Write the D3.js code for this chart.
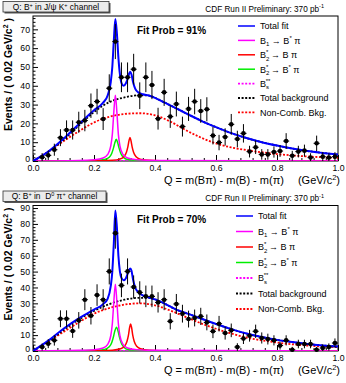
<!DOCTYPE html>
<html>
<head>
<meta charset="utf-8">
<script src="https://cdn.jsdelivr.net/npm/d3@7"></script>
<style>
  body { margin: 0; background: #fff; }
  svg { display: block; font-family: "Liberation Sans", Arial, sans-serif; }
</style>
</head>
<body>
<div id="chart"></div>
<script>
// bin centres (0.02 GeV/c^2 bins)
const binCentres = [0.03,0.05,0.07,0.09,0.11,0.13,0.15,0.17,0.19,0.21,0.23,0.25,0.27,0.29,0.31,0.33,0.35,0.37,0.39,0.41,
  0.43,0.45,0.47,0.49,0.51,0.53,0.55,0.57,0.59,0.61,0.63,0.65,0.67,0.69,0.71,0.73,0.75,0.77,0.79,0.81,
  0.83,0.85,0.87,0.89,0.91,0.93,0.95,0.97,0.99];

// J/psi K+ channel
const topCounts = [2,3,6,12.4,16.5,16.5,20.6,21.5,29.4,31.6,22.3,38.7,63.5,44.5,44.5,48.8,34.7,44.5,40.4,22.5,
  36.5,23.6,30.3,18.3,27.7,31.6,26.6,27.5,13.5,9.8,12.8,19.5,11.7,14.7,5,7.3,3.5,3.5,4.8,5.3,
  10.6,2.8,5,5.5,1.8,9.4,2.3,1.8,2.3];
const topErrors = [2.2,2.5,3.2,4.5,5.1,5.1,5.6,5.7,6.5,6.8,5.8,7.4,9.3,7.9,7.9,8.2,7.1,7.9,7.5,5.8,
  7.2,6,6.6,5.3,6.4,6.8,6.3,6.4,4.7,4.1,4.6,5.5,4.4,4.9,3.1,3.6,2.8,2.8,3,3.1,
  4.2,2.6,3.1,3.2,2.3,4.1,2.4,2.3,2.4];

// D0 pi+ channel
const bottomCounts = [2.5,4.6,6.7,20.3,20.3,12.6,19.3,32.3,22.2,35.2,32.3,50.1,74.2,41.3,50.1,40.3,36.9,34.4,34.4,30.6,
  32.3,18.7,29.6,23.5,20.1,20.8,21.8,18,12.4,17.2,11.3,13,2.5,7.8,9.6,12.4,8.2,7.5,6.7,3.4,
  6.7,0.8,4.4,4.4,4.4,0.8,1.9,2.5,5];
const bottomErrors = [2.2,2.8,3.3,5.3,5.3,4.3,5.2,6.6,5.5,6.8,6.6,8.2,9.8,7.4,8.2,7.3,7,6.8,6.8,6.4,
  6.6,5.1,6.3,5.6,5.3,5.3,5.4,5,4.3,4.9,4.1,4.3,2.4,3.4,3.7,4.2,3.5,3.4,3.2,2.5,
  3.2,1.8,2.7,2.7,2.7,1.8,2.2,2.3,2.9];

const xTicks = [0, 0.2, 0.4, 0.6, 0.8, 1.0];
const topYTicks = [0, 10, 20, 30, 40, 50, 60, 70];
const bottomYTicks = [0, 10, 20, 30, 40, 50, 60, 70, 80, 90];

// fit curves: [Q, events]
const topTotalFit = [[0,0],[0.05,5],[0.1,11.8],[0.15,19.5],[0.2,27],[0.23,31],[0.245,35],[0.255,42],[0.26,50],[0.265,64],
  [0.27,75.5],[0.275,68],[0.28,55],[0.285,46],[0.29,41.5],[0.297,40],[0.305,41.5],[0.311,44],[0.315,46.5],[0.319,47.5],
  [0.323,46],[0.328,42],[0.335,38.5],[0.345,36.5],[0.36,35.5],[0.38,34.8],[0.4,33.6],[0.43,31.2],[0.47,28],[0.5,25.5],
  [0.55,21.5],[0.6,18],[0.65,14.8],[0.7,12.2],[0.75,10],[0.8,8.2],[0.85,6.6],[0.9,5.3],[0.95,4.3],[1,3.4]];
const topB1 = [[0,0],[0.15,0.3],[0.2,0.7],[0.23,1.6],[0.245,3.5],[0.255,8],[0.26,14],[0.265,26],[0.27,35],[0.275,26],
  [0.28,14],[0.285,8],[0.295,3.5],[0.31,1.6],[0.34,0.7],[0.4,0.3],[1,0]];
const topB2Bpi = [[0,0],[0.2,0.1],[0.26,0.4],[0.285,1],[0.298,2.2],[0.306,4.5],[0.311,7.5],[0.315,11],[0.318,12.5],[0.321,11],
  [0.325,7.5],[0.33,4.5],[0.338,2.2],[0.351,1],[0.38,0.4],[0.45,0.1],[1,0]];
const topB2Bstar = [[0,0],[0.15,0.1],[0.2,0.3],[0.235,0.8],[0.25,2],[0.258,4],[0.264,7],[0.268,9.5],[0.273,11.5],[0.278,9.5],
  [0.282,7],[0.288,4],[0.296,2],[0.31,0.8],[0.35,0.3],[0.4,0.1],[1,0]];
const topBs = [[0,0],[1,0]];
const topTotalBkg = [[0,0],[0.05,4.8],[0.1,11.3],[0.15,18.8],[0.2,26],[0.25,31.3],[0.3,33.8],[0.35,35],[0.38,34.8],[0.4,33.6],
  [0.43,31.2],[0.47,28],[0.5,25.5],[0.55,21.5],[0.6,18],[0.65,14.8],[0.7,12.2],[0.75,10],[0.8,8.2],[0.85,6.6],
  [0.9,5.3],[0.95,4.3],[1,3.4]];
const topNonComb = [[0,0],[0.05,5],[0.1,10.5],[0.15,15.8],[0.2,20.5],[0.25,23.5],[0.3,25],[0.35,25.4],[0.4,24.3],[0.45,21],
  [0.5,16.5],[0.55,12.5],[0.6,9.3],[0.65,7.2],[0.7,5.8],[0.8,3.7],[0.9,2.4],[1,1.7]];

const bottomTotalFit = [[0,0],[0.05,6.5],[0.1,14],[0.15,20.5],[0.2,26],[0.23,29.5],[0.245,33],[0.255,41],[0.26,50],[0.265,68],
  [0.27,88.5],[0.275,78],[0.28,60],[0.285,50],[0.29,46],[0.297,44.5],[0.305,46],[0.311,49],[0.315,51],[0.319,52],
  [0.323,50.5],[0.328,45],[0.335,40],[0.345,37],[0.36,35],[0.38,33.6],[0.4,32.5],[0.43,30],[0.47,26],[0.5,24],
  [0.55,20.5],[0.6,17],[0.65,13.8],[0.7,11],[0.75,8.8],[0.8,7],[0.85,5.6],[0.9,4.4],[0.95,3.5],[1,2.8]];
const bottomB1 = [[0,0],[0.15,0.4],[0.2,0.8],[0.23,1.9],[0.245,4.2],[0.255,9.6],[0.26,17],[0.265,31],[0.27,42],[0.275,31],
  [0.28,17],[0.285,9.6],[0.295,4.2],[0.31,1.9],[0.34,0.8],[0.4,0.4],[1,0]];
const bottomB2Bpi = [[0,0],[0.2,0.1],[0.26,0.5],[0.287,1.4],[0.3,3],[0.308,6],[0.313,10],[0.317,15],[0.32,17],[0.323,15],
  [0.327,10],[0.332,6],[0.34,3],[0.353,1.4],[0.38,0.5],[0.45,0.1],[1,0]];
const bottomB2Bstar = [[0,0],[0.15,0.1],[0.2,0.4],[0.235,1],[0.25,2.6],[0.258,5.2],[0.264,9.1],[0.268,12.4],[0.274,15],[0.279,12.4],
  [0.283,9.1],[0.289,5.2],[0.297,2.6],[0.31,1],[0.35,0.4],[0.4,0.1],[1,0]];
const bottomBs = [[0,0],[1,0]];
const bottomTotalBkg = [[0,0],[0.05,6],[0.1,13.2],[0.15,19.8],[0.2,25.2],[0.25,29.5],[0.3,32.3],[0.35,33.5],[0.38,33.4],[0.4,32.5],
  [0.43,30],[0.47,26],[0.5,24],[0.55,20.5],[0.6,17],[0.65,13.8],[0.7,11],[0.75,8.8],[0.8,7],[0.85,5.6],
  [0.9,4.4],[0.95,3.5],[1,2.8]];
const bottomNonComb = [[0,0],[0.05,6],[0.1,12],[0.15,18],[0.2,23.5],[0.25,27],[0.3,29.2],[0.35,30],[0.4,28.8],[0.45,25.5],
  [0.5,21.5],[0.55,17.5],[0.6,14],[0.65,11],[0.7,8.5],[0.8,5.3],[0.9,3.4],[1,2.4]];

// legend styles (order as drawn in the legend)
const legendColors = ["#0000ff", "#ff00ff", "#ff0000", "#00ee00", "#ff00ff", "#000000", "#ff0000"];
const legendDashed = [false, false, false, false, true, true, true];

const W = 346, H = 383;
const svg = d3.select("#chart").append("svg")
  .attr("width", W).attr("height", H);

const panels = [
  {
    title: ["Q: B", "+", " in J/\u03C8 K", "+", " channel"],
    fitProb: "Fit Prob = 91%",
    counts: topCounts, errors: topErrors, yTicks: topYTicks,
    curves: [topTotalFit, topB1, topB2Bpi, topB2Bstar, topBs, topTotalBkg, topNonComb],
    left: 33, right: 338, top: 16, bottom: 161, yMax: 77.1,
    boxW: 106, legX: 238, legY: 26, legStep: 14.4
  },
  {
    title: ["Q: B", "+", " in  D", "0", " \u03C0", "+", " channel"],
    fitProb: "Fit Prob = 70%",
    counts: bottomCounts, errors: bottomErrors, yTicks: bottomYTicks,
    curves: [bottomTotalFit, bottomB1, bottomB2Bpi, bottomB2Bstar, bottomBs, bottomTotalBkg, bottomNonComb],
    left: 33, right: 338, top: 205.5, bottom: 351, yMax: 91.6,
    boxW: 103, legX: 236, legY: 216, legStep: 15.5
  }
];

panels.forEach(drawPanel);

function drawPanel(p) {
  const g = svg.append("g");
  const x = d3.scaleLinear().domain([0, 1]).range([p.left, p.right]);
  const y = d3.scaleLinear().domain([0, p.yMax]).range([p.bottom, p.top]);

  // title box
  const by = p.top - 14.5;
  g.append("rect").attr("x", 4.5).attr("y", by + 1.5).attr("width", p.boxW).attr("height", 10.5).attr("fill", "#555");
  g.append("rect").attr("x", 3).attr("y", by).attr("width", p.boxW).attr("height", 10.5)
    .attr("fill", "#ececec").attr("stroke", "#333").attr("stroke-width", 0.8);
  const tt = g.append("text").attr("x", 3 + p.boxW / 2).attr("y", by + 8.3)
    .attr("text-anchor", "middle").attr("font-size", 8.4).attr("fill", "#000")
    .style("white-space", "pre");
  p.title.forEach((s, i) => {
    const sup = i % 2 === 1 && s.length === 1;
    tt.append("tspan").attr("font-size", sup ? 5.5 : 8.4)
      .attr("dy", sup ? -3 : (i > 0 ? 3 : 0)).text(s);
  });

  // header
  const hd = g.append("text").attr("x", 324).attr("y", p.top - 4.5)
    .attr("text-anchor", "end").attr("font-size", 8.2).attr("fill", "#000");
  hd.append("tspan").text("CDF Run II Preliminary: 370 pb");
  hd.append("tspan").attr("font-size", 5.5).attr("dy", -3.5).text("-1");

  // frame
  g.append("rect").attr("x", p.left).attr("y", p.top)
    .attr("width", p.right - p.left).attr("height", p.bottom - p.top)
    .attr("fill", "none").attr("stroke", "#000").attr("stroke-width", 1);

  // axes
  const yMinor = d3.range(0, p.yMax, 2).filter(v => v % 10 !== 0);
  g.append("g").attr("transform", `translate(${p.left},0)`)
    .call(d3.axisLeft(y).tickValues(yMinor).tickSize(-2.5).tickFormat(""))
    .call(a => a.select(".domain").remove());
  g.append("g").attr("transform", `translate(${p.left},0)`)
    .call(d3.axisLeft(y).tickValues(p.yTicks).tickSize(-5).tickPadding(3).tickFormat(d3.format("d")))
    .call(a => a.select(".domain").remove())
    .call(a => a.selectAll("text").attr("font-size", 8.7).attr("font-family", "Liberation Sans, Arial, sans-serif"))
    .call(a => a.selectAll(".tick").filter(d => d === 0).select("text").attr("dy", "0.1em"));

  const xMinor = d3.range(0, 1.0001, 0.04).filter(v => Math.abs(v * 5 - Math.round(v * 5)) > 1e-6);
  g.append("g").attr("transform", `translate(0,${p.bottom})`)
    .call(d3.axisBottom(x).tickValues(xMinor).tickSize(-3).tickFormat(""))
    .call(a => a.select(".domain").remove());
  g.append("g").attr("transform", `translate(0,${p.bottom})`)
    .call(d3.axisBottom(x).tickValues(xTicks).tickSize(-6).tickPadding(3.5).tickFormat(d3.format(".1f")))
    .call(a => a.select(".domain").remove())
    .call(a => a.selectAll("text").attr("font-size", 8.7).attr("font-family", "Liberation Sans, Arial, sans-serif"));

  // axis titles
  const yt = g.append("text")
    .attr("transform", `translate(11.5,${p.top + 2}) rotate(-90)`)
    .attr("text-anchor", "end").attr("font-size", 10.5).attr("font-weight", "bold");
  yt.append("tspan").text("Events / ( 0.02 GeV/c");
  yt.append("tspan").attr("font-size", 7).attr("dy", -4).text("2");
  yt.append("tspan").attr("dy", 4).text(" )");

  const xt = g.append("text").attr("x", 340).attr("y", p.bottom + 23)
    .attr("text-anchor", "end").attr("font-size", 11);
  xt.append("tspan").text("Q = m(B\u03C0) - m(B) - m(\u03C0)");
  xt.append("tspan").attr("dx", 14).text("(GeV/c");
  xt.append("tspan").attr("font-size", 7.5).attr("dy", -4).text("2");
  xt.append("tspan").attr("dy", 4).text(")");

  // curves
  const line = d3.line().x(d => x(d[0])).y(d => y(d[1])).curve(d3.curveMonotoneX);
  const clip = "clip" + Math.round(p.top);
  g.append("clipPath").attr("id", clip).append("rect")
    .attr("x", p.left).attr("y", p.top).attr("width", p.right - p.left).attr("height", p.bottom - p.top);
  const cg = g.append("g").attr("clip-path", `url(#${clip})`);
  const order = [6, 5, 4, 3, 2, 1, 0];
  order.forEach(i => {
    cg.append("path").datum(p.curves[i]).attr("d", line)
      .attr("fill", "none").attr("stroke", legendColors[i])
      .attr("stroke-width", i === 0 ? 2 : (legendDashed[i] ? 1.8 : 1.5))
      .attr("stroke-dasharray", legendDashed[i] ? "2,1.6" : null);
  });

  // data points with errors
  const pts = g.append("g");
  binCentres.forEach((c, i) => {
    const v = p.counts[i], e = p.errors[i];
    pts.append("line").attr("x1", x(c)).attr("x2", x(c))
      .attr("y1", y(Math.max(0, v - e))).attr("y2", y(v + e))
      .attr("stroke", "#000").attr("stroke-width", 1);
    pts.append("line").attr("x1", x(c - 0.01)).attr("x2", x(c + 0.01))
      .attr("y1", y(v)).attr("y2", y(v))
      .attr("stroke", "#000").attr("stroke-width", 1);
    pts.append("circle").attr("cx", x(c)).attr("cy", y(v)).attr("r", 2.3).attr("fill", "#000");
  });

  // fit probability
  g.append("text").attr("x", 137).attr("y", p.top + 17.5)
    .attr("font-size", 10).attr("font-weight", "bold").text(p.fitProb);

  // legend
  const legendParts = [
    [["Total fit"]],
    [["B"], ["1", "sub"], [" \u2192 B"], ["*", "sup"], [" \u03C0"]],
    [["B"], ["2", "sub", "*"], [" \u2192 B \u03C0"]],
    [["B"], ["2", "sub", "*"], [" \u2192 B"], ["*", "sup"], [" \u03C0"]],
    [["B"], ["s", "sub", "**"]],
    [["Total background"]],
    [["Non-Comb. Bkg."]]
  ];
  legendParts.forEach((parts, i) => {
    const ly = p.legY + i * p.legStep;
    g.append("line").attr("x1", p.legX).attr("x2", p.legX + 17).attr("y1", ly).attr("y2", ly)
      .attr("stroke", legendColors[i]).attr("stroke-width", legendDashed[i] ? 1.8 : 1.5)
      .attr("stroke-dasharray", legendDashed[i] ? "2,1.6" : null);
    const t = g.append("text").attr("x", p.legX + 22).attr("y", ly + 3.3).attr("font-size", 9);
    let shift = 0;
    parts.forEach(part => {
      const [s, kind, over] = part;
      if (!kind) {
        t.append("tspan").attr("dy", -shift).attr("font-size", 9).text(s);
        shift = 0;
      } else if (kind === "sub") {
        t.append("tspan").attr("dy", 2.5 - shift).attr("font-size", 6).text(s);
        shift = 2.5;
        if (over) {
          t.append("tspan").attr("dx", -3.3).attr("dy", -6.5).attr("font-size", 6).text(over);
          shift = -4;
        }
      } else {
        t.append("tspan").attr("dy", -4 - shift).attr("font-size", 6).text(s);
        shift = -4;
      }
    });
  });
}
</script>
</body>
</html>
